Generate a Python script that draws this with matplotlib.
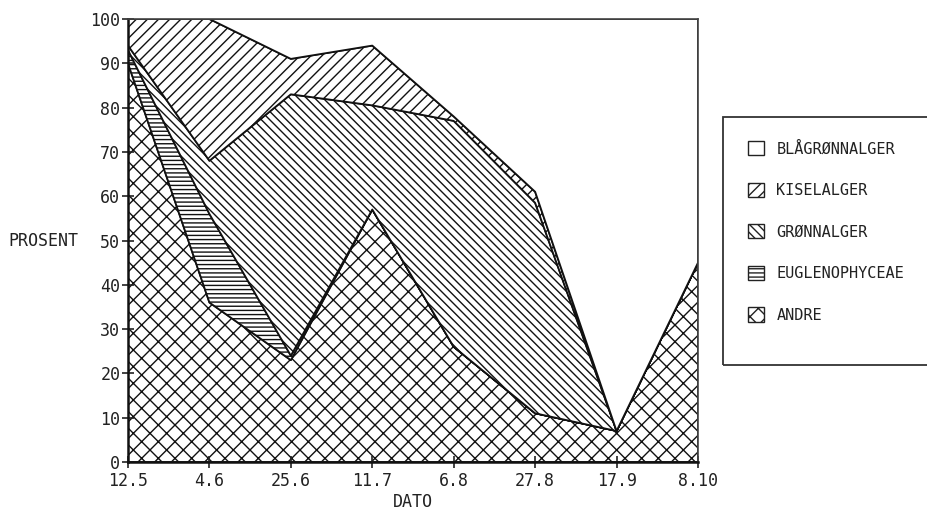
import matplotlib
matplotlib.use("Agg")
from matplotlib import pyplot as plt
from matplotlib.patches import Patch, Rectangle

# sampling dates and percentage share of each algae group
dates = ["12.5", "4.6", "25.6", "11.7", "6.8", "27.8", "17.9", "8.10"]
andre = [90, 36, 23, 57, 26, 11, 7, 45]
euglenophyceae = [3, 20, 1, 0, 0, 0, 0, 0]
gronnalger = [1, 12, 59, 23.5, 51, 47.5, 0, 0]
kiselalger = [6, 32, 8, 13.5, 1, 2.5, 0, 0]
blagronnalger = [0, 0, 9, 6, 22, 39, 93, 55]

plt.rcParams["font.family"] = ["DejaVu Sans Mono"]
plt.rcParams["hatch.linewidth"] = 1.0
plt.rcParams["hatch.color"] = "#222222"

fig = plt.figure(figsize=(9.27, 5.19), dpi=100)
ax = fig.add_axes([128 / 927, 1 - 462 / 519, 570 / 927, 443 / 519])

x = list(range(len(dates)))
ax.stackplot(x, andre, euglenophyceae, gronnalger, kiselalger, blagronnalger,
             colors=["white"] * 5,
             hatch=["xx", "----", "\\\\\\\\", "///", ""],
             edgecolor="#111111", linewidth=1.3)

ax.set_xlim(0, len(dates) - 1)
ax.set_ylim(0, 100)
ax.set_xticks(x)
ax.set_xticklabels(dates)
ax.set_yticks(range(0, 101, 10))
ax.tick_params(direction="inout", length=9, width=1.2, labelsize=12, colors="#222222")
ax.tick_params(axis="x", pad=3)
ax.tick_params(axis="y", pad=1)

ax.set_xlabel("DATO", fontsize=12, color="#222222", labelpad=2)
ax.set_ylabel("PROSENT", fontsize=12, color="#222222", rotation=0, labelpad=34, va="center")

for side in ["left", "bottom"]:
    ax.spines[side].set_linewidth(1.8)
    ax.spines[side].set_color("#111111")
for side in ["top", "right"]:
    ax.spines[side].set_linewidth(1.2)
    ax.spines[side].set_color("#444444")

# legend box, open to the right edge of the sheet
fig.patches.append(Rectangle((723 / 927, 1 - 365 / 519), 0.3, 248 / 519,
                             transform=fig.transFigure, facecolor="none",
                             edgecolor="#333333", linewidth=1.3))

handles = [
    Patch(facecolor="white", edgecolor="#222222", hatch=""),
    Patch(facecolor="white", edgecolor="#222222", hatch="///"),
    Patch(facecolor="white", edgecolor="#222222", hatch="\\\\\\\\"),
    Patch(facecolor="white", edgecolor="#222222", hatch="----"),
    Patch(facecolor="white", edgecolor="#222222", hatch="xx"),
]
labels = ["BLÅGRØNNALGER", "KISELALGER", "GRØNNALGER", "EUGLENOPHYCEAE", "ANDRE"]
fig.legend(handles, labels, loc="upper left", bbox_to_anchor=(748 / 927, 1 - 141 / 519),
           frameon=False, fontsize=11, borderpad=0, borderaxespad=0,
           handlelength=1.05, handleheight=1.05, handletextpad=0.8, labelspacing=1.72,
           labelcolor="#222222")

fig.savefig("out.png", dpi=100)
